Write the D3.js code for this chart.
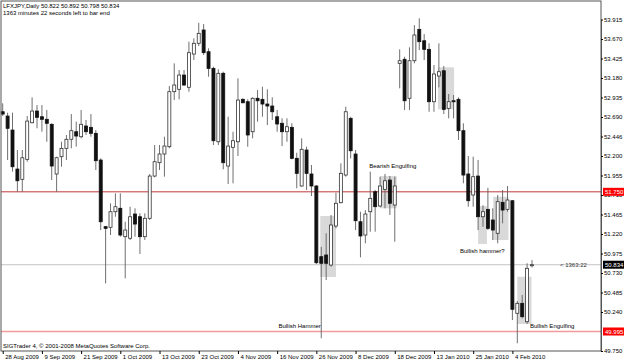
<!DOCTYPE html>
<html>
<head>
<meta charset="utf-8">
<script src="https://cdn.jsdelivr.net/npm/d3@7"></script>
<style>
body { margin: 0; background: #fff; }
svg text { font-family: "Liberation Sans", Arial, sans-serif; font-size: 6px; }
</style>
</head>
<body>
<svg id="chart" width="625" height="363"></svg>
<script>
// LFXJPY daily bars (bar 0 = 28 Aug 2009)
const opens = [52.756,52.702,52.526,52.036,51.907,52.158,52.618,52.765,52.693,52.661,
  52.598,51.974,52.191,52.296,52.410,52.505,52.442,52.577,52.560,52.485,
  52.149,51.312,51.304,51.500,51.543,51.186,51.166,51.471,51.437,51.186,
  51.417,51.948,52.116,52.225,52.317,53.008,53.038,53.217,53.063,53.481,
  53.616,53.783,53.510,53.301,52.379,53.239,52.074,52.309,52.379,52.912,
  52.882,52.505,52.925,52.912,52.853,52.828,52.693,52.611,52.505,52.560,
  52.171,51.823,52.275,51.974,51.823,50.935,50.956,50.830,51.320,51.613,
  51.961,52.673,52.225,51.374,51.207,51.500,51.751,51.572,51.781,51.898,
  51.584,53.364,53.415,52.925,53.397,53.791,53.648,53.540,52.882,53.205,
  53.271,52.799,52.894,52.912,52.518,51.974,51.710,51.948,51.437,51.530,
  51.396,51.229,51.618,51.530,51.638,50.224,50.349,50.118,50.822]
const highs = [52.862,52.744,52.744,52.275,52.275,52.702,52.937,52.840,52.840,52.778,
  52.611,52.191,52.379,52.464,52.727,52.631,52.778,52.652,52.727,52.526,
  52.171,51.320,51.606,51.731,51.731,51.374,51.563,51.543,51.480,51.480,
  51.974,52.338,52.338,52.442,53.079,53.364,53.280,53.280,53.636,53.678,
  53.874,53.858,53.553,53.322,53.289,53.259,52.693,52.505,53.176,52.925,
  52.912,52.937,53.029,53.070,53.038,52.937,52.778,52.673,52.673,52.611,
  52.241,52.422,52.317,52.087,51.835,51.060,51.229,51.459,51.739,52.108,
  52.819,52.693,52.275,51.500,51.521,52.003,51.773,51.940,51.974,51.948,
  51.940,53.540,53.447,53.565,53.845,53.930,53.732,53.616,53.343,53.616,
  53.330,52.979,52.966,52.937,52.611,52.200,52.191,52.149,51.580,51.800,
  51.543,51.710,51.773,51.823,51.647,50.378,50.454,50.852,50.892]
const lows = [52.702,52.149,52.003,51.751,51.751,52.128,52.611,52.548,52.505,52.379,
  51.898,51.751,52.065,52.149,52.296,52.317,52.422,52.464,52.442,52.024,
  51.270,50.600,51.207,51.437,51.186,50.663,51.144,51.186,50.969,51.144,
  51.396,51.932,52.024,51.940,52.296,52.903,52.912,53.079,53.008,53.406,
  53.582,53.469,53.196,52.338,52.338,52.033,51.848,51.857,52.200,52.862,
  52.317,52.422,52.631,52.693,52.589,52.652,52.505,52.325,52.379,52.158,
  51.794,51.814,51.773,51.697,50.843,49.910,50.642,50.809,51.291,51.606,
  51.940,52.171,51.270,50.927,51.103,51.249,51.249,51.555,51.543,51.459,
  51.123,53.050,52.778,52.778,53.364,53.531,53.406,52.756,52.756,53.063,
  52.727,52.673,52.673,52.401,51.857,51.563,51.563,51.270,51.310,51.270,
  51.144,51.103,51.354,51.500,50.139,49.847,50.161,50.089,50.798]
const closes = [52.727,52.548,52.065,51.889,52.178,52.639,52.765,52.686,52.661,52.611,
  52.074,52.178,52.296,52.410,52.518,52.451,52.598,52.505,52.485,52.141,
  51.374,51.291,51.500,51.563,51.207,51.270,51.437,51.345,51.186,51.417,
  51.948,52.128,52.225,52.325,53.008,53.092,53.217,53.092,53.498,53.616,
  53.741,53.498,53.301,52.392,53.239,52.116,52.325,52.392,52.903,52.869,
  52.464,52.925,52.894,52.853,52.828,52.756,52.602,52.505,52.568,52.171,
  51.982,52.284,51.982,51.823,50.859,50.852,50.852,51.333,51.606,51.982,
  52.756,52.266,51.387,51.195,51.471,51.668,51.563,51.823,51.889,51.606,
  51.823,53.397,52.894,53.397,53.720,53.636,53.540,52.882,53.230,53.259,
  52.786,52.882,52.882,52.518,51.961,51.638,51.940,51.437,51.500,51.291,
  51.270,51.626,51.521,51.647,50.274,50.349,50.181,50.789,50.834]

const dateLabels = ["28 Aug 2009","9 Sep 2009","21 Sep 2009","1 Oct 2009","13 Oct 2009",
  "23 Oct 2009","4 Nov 2009","16 Nov 2009","26 Nov 2009","8 Dec 2009","18 Dec 2009",
  "13 Jan 2010","25 Jan 2010","4 Feb 2010"]
const barsPerLabel = 8

const priceTicks = [53.915,53.670,53.425,53.180,52.935,52.690,52.445,52.200,51.955,
  51.710,51.465,51.220,50.975,50.730,50.485,50.240,49.750]
const priceTickLabels = ["53.915","53.670","53.425","53.180","52.935","52.690","52.446",
  "52.200","51.955","51.710","51.465","51.220","50.975","50.730","50.485","50.240",
  "49.750"]

const levelUpper = 51.750
const levelLower = 49.995
const bid = 50.834

// pattern boxes: [first bar, last bar, top price, bottom price]
const boxes = [[64.8,68.0,51.446,50.680],[77.0,80.4,51.948,51.543],[88.8,92.1,53.314,52.786],
  [97.0,98.8,51.572,51.094],[100.1,103.2,51.688,51.144],[105.0,107.9,50.683,50.089]]
// notes: [text, bar, price, anchor]
const notes = [["Bullish Hammer",64.9,50.04,"end"],["Bearish Engulfing",74.8,52.05,"start"],
  ["Bullish hammer?",93.3,50.98,"start"],["Bullish Engulfing",107.6,50.04,"start"]]

const titleText = "LFXJPY,Daily  50.822 50.892 50.798 50.834"
const timerText = "1363 minutes 22 seconds left to bar end"
const copyText = "SIGTrader 4, \u00a9 2001-2008 MetaQuotes Software Corp."
const timerShort = "< 1363:22"

// layout
const plotLeft = 1, plotRight = 601, plotTop = 1, plotBottom = 351

const x = d3.scaleLinear().domain([0, 108]).range([2.7, 532])
const y = d3.scaleLinear().domain([49.75, 53.915]).range([351, 19.5])

const bars = opens.map((o, i) => ({ i: i, o: o, h: highs[i], l: lows[i], c: closes[i] }))

const svg = d3.select("#chart")
svg.append("rect").attr("width", 625).attr("height", 363).attr("fill", "#fff")

// grey highlight boxes
svg.append("g").selectAll("rect").data(boxes).join("rect")
  .attr("x", d => x(d[0])).attr("y", d => y(d[2]))
  .attr("width", d => x(d[1]) - x(d[0])).attr("height", d => y(d[3]) - y(d[2]))
  .attr("fill", "#d9d9d9")

// horizontal levels
svg.append("line").attr("x1", plotLeft).attr("x2", plotRight)
  .attr("y1", y(bid)).attr("y2", y(bid)).attr("stroke", "#c4c4c4").attr("stroke-width", 1)
svg.append("line").attr("x1", plotLeft).attr("x2", plotRight)
  .attr("y1", y(levelUpper)).attr("y2", y(levelUpper)).attr("stroke", "#c23a3a").attr("stroke-width", 1)
svg.append("line").attr("x1", plotLeft).attr("x2", plotRight)
  .attr("y1", y(levelLower)).attr("y2", y(levelLower)).attr("stroke", "#f29a9a").attr("stroke-width", 1.6)

// candles
const candle = svg.append("g").selectAll("g").data(bars).join("g")
candle.append("line")
  .attr("x1", d => x(d.i)).attr("x2", d => x(d.i))
  .attr("y1", d => y(d.h)).attr("y2", d => y(d.l))
  .attr("stroke", "#5f5f5f").attr("stroke-width", 0.9)
candle.append("rect")
  .attr("x", d => x(d.i) - 1.5)
  .attr("y", d => y(Math.max(d.o, d.c)))
  .attr("width", 3)
  .attr("height", d => Math.max(1, Math.abs(y(d.o) - y(d.c))))
  .attr("fill", d => d.c >= d.o ? "#fff" : "#111")
  .attr("stroke", d => d.c >= d.o ? "#333" : "#111")
  .attr("stroke-width", 0.8)

// notes
svg.append("g").selectAll("text").data(notes).join("text")
  .attr("x", d => x(d[1])).attr("y", d => y(d[2]))
  .attr("text-anchor", d => d[3])
  .attr("fill", "#000")
  .text(d => d[0])

svg.append("text").attr("x", 560).attr("y", y(bid) + 2).attr("fill", "#333").text(timerShort)

// frame
svg.append("rect").attr("x", plotLeft).attr("y", plotTop)
  .attr("width", plotRight - plotLeft).attr("height", plotBottom - plotTop)
  .attr("fill", "none").attr("stroke", "#555").attr("stroke-width", 1)

// price axis
const yAxis = svg.append("g").attr("transform", "translate(" + plotRight + ",0)")
  .call(d3.axisRight(y).tickValues(priceTicks).tickFormat((d, i) => priceTickLabels[i])
    .tickSize(2).tickSizeOuter(0).tickPadding(1))
yAxis.select(".domain").attr("stroke", "#555")
yAxis.selectAll("text").attr("font-size", 6).attr("font-family", "Liberation Sans, Arial")

// the 51.710 label sits half under the red tag, as in the terminal
function priceTag(v, colour) {
  const g = svg.append("g").attr("transform", "translate(" + (plotRight + 2) + "," + y(v) + ")")
  g.append("rect").attr("x", 0).attr("y", -4).attr("width", 21).attr("height", 8).attr("fill", colour)
  g.append("text").attr("x", 2).attr("y", 2.2).attr("fill", "#fff").text(v.toFixed(3))
}
priceTag(levelUpper, "#ff0000")
priceTag(levelLower, "#ff0000")
priceTag(bid, "#000")

// date axis
const xAxis = svg.append("g").attr("transform", "translate(0," + plotBottom + ")")
  .call(d3.axisBottom(x).tickValues(dateLabels.map((d, k) => k * barsPerLabel))
    .tickFormat((d, k) => dateLabels[k]).tickSize(3).tickSizeOuter(0))
xAxis.select(".domain").remove()
xAxis.selectAll("text").attr("text-anchor", "start").attr("dx", 2).attr("y", 4)
  .attr("font-size", 6).attr("font-family", "Liberation Sans, Arial")

// header and footer text
svg.append("text").attr("x", 3).attr("y", 8).attr("fill", "#000").text(titleText)
svg.append("text").attr("x", 3).attr("y", 15).attr("fill", "#000").text(timerText)
svg.append("text").attr("x", 3).attr("y", 348).attr("fill", "#000").text(copyText)
</script>
</body>
</html>
